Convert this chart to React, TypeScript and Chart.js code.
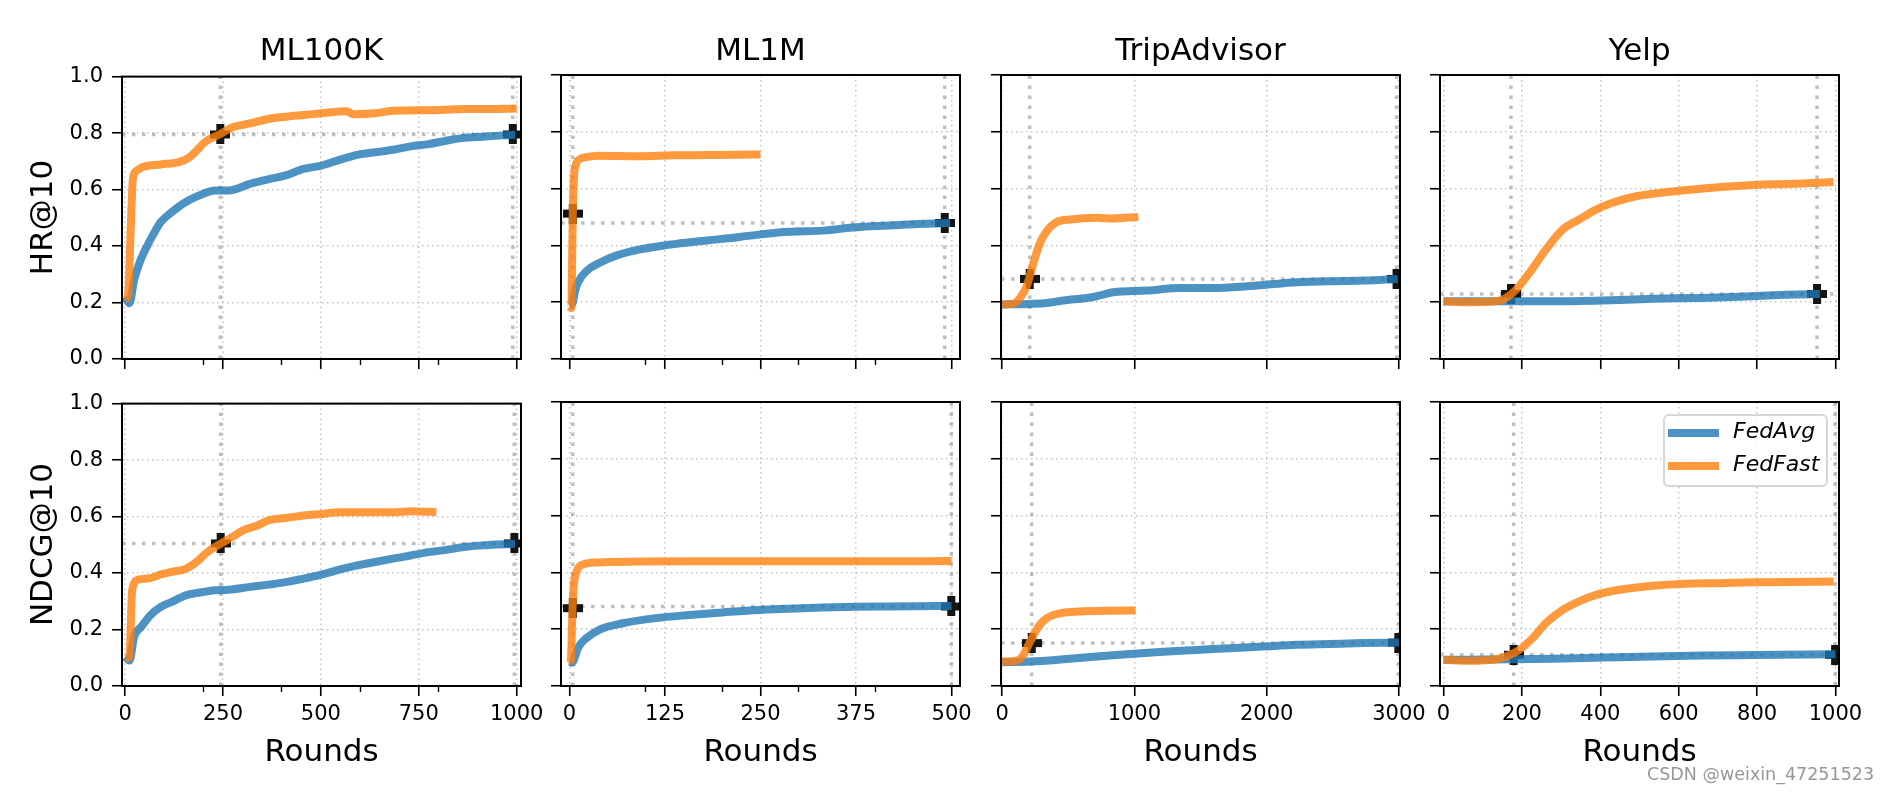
import React, { useEffect, useRef } from "react";
import { Chart, registerables } from "chart.js";

Chart.register(...registerables);

// ---------------- text ----------------
const COLUMN_TITLES = ["ML100K", "ML1M", "TripAdvisor", "Yelp"];
const ROW_LABELS = ["HR@10", "NDCG@10"];
const X_LABEL = "Rounds";
const SERIES_NAMES = ["FedAvg", "FedFast"];
const WATERMARK = "CSDN @weixin_47251523";

// ---------------- axes ----------------
const Y_TICKS = [0, 0.2, 0.4, 0.6, 0.8, 1.0];
const X_TICKS_ML100K = [0, 250, 500, 750, 1000];
const X_MINOR_ML100K = [200, 400, 600, 800];
const X_RANGE_ML100K = [-8, 1011];
const X_TICKS_ML1M = [0, 125, 250, 375, 500];
const X_MINOR_ML1M = [100, 200, 300, 400];
const X_RANGE_ML1M = [-11, 511];
const X_TICKS_TRIP = [0, 1000, 2000, 3000];
const X_MINOR_TRIP: number[] = [];
const X_RANGE_TRIP = [-8, 3008];
const X_TICKS_YELP = [0, 200, 400, 600, 800, 1000];
const X_MINOR_YELP: number[] = [];
const X_RANGE_YELP = [-9, 1009];

// ---------------- ML100K HR@10 ----------------
const ML100K_HR_AVG_X = [0, 11, 23, 36, 55, 73, 91, 119, 155, 200, 228, 264, 319, 365, 410, 456, 501, 547, 593, 638, 684, 729, 775, 820, 866, 912, 957, 996];
const ML100K_HR_AVG_Y = [0.22, 0.197, 0.28, 0.338, 0.397, 0.444, 0.485, 0.52, 0.556, 0.585, 0.597, 0.597, 0.62, 0.636, 0.65, 0.673, 0.685, 0.705, 0.723, 0.732, 0.741, 0.753, 0.761, 0.773, 0.783, 0.787, 0.791, 0.794];
const ML100K_HR_FAST_X = [0, 8, 14, 20, 28, 45, 91, 137, 164, 187, 200, 243, 273, 319, 365, 410, 456, 501, 565, 583, 638, 684, 775, 866, 912, 1000];
const ML100K_HR_FAST_Y = [0.21, 0.23, 0.45, 0.64, 0.665, 0.68, 0.689, 0.697, 0.714, 0.744, 0.764, 0.797, 0.82, 0.834, 0.85, 0.858, 0.864, 0.87, 0.877, 0.867, 0.87, 0.879, 0.881, 0.885, 0.885, 0.887];
const ML100K_HR_VLINES = [243, 990];
const ML100K_HR_HLINE = 0.795;
const ML100K_HR_MARK_X = [243, 990];
const ML100K_HR_MARK_Y = [0.795, 0.795];

// ---------------- ML100K NDCG@10 ----------------
const ML100K_NDCG_AVG_X = [0, 11, 23, 41, 64, 91, 119, 155, 200, 228, 264, 319, 365, 410, 456, 501, 547, 593, 638, 684, 729, 775, 820, 866, 912, 996];
const ML100K_NDCG_AVG_Y = [0.103, 0.09, 0.174, 0.209, 0.25, 0.28, 0.298, 0.321, 0.333, 0.339, 0.341, 0.351, 0.359, 0.368, 0.38, 0.394, 0.412, 0.427, 0.439, 0.451, 0.462, 0.474, 0.482, 0.492, 0.498, 0.504];
const ML100K_NDCG_FAST_X = [0, 11, 18, 32, 64, 91, 119, 155, 182, 210, 244, 273, 301, 337, 365, 410, 456, 501, 547, 593, 684, 729, 795];
const ML100K_NDCG_FAST_Y = [0.098, 0.104, 0.34, 0.376, 0.382, 0.395, 0.404, 0.415, 0.439, 0.474, 0.504, 0.527, 0.551, 0.568, 0.586, 0.595, 0.604, 0.609, 0.615, 0.615, 0.615, 0.619, 0.615];
const ML100K_NDCG_VLINES = [244, 994];
const ML100K_NDCG_HLINE = 0.505;
const ML100K_NDCG_MARK_X = [244, 994];
const ML100K_NDCG_MARK_Y = [0.505, 0.505];

// ---------------- ML1M HR@10 ----------------
const ML1M_HR_AVG_X = [0, 4, 7, 11, 22, 39, 61, 91, 124, 157, 200, 248, 287, 331, 375, 418, 462, 498];
const ML1M_HR_AVG_Y = [0.19, 0.195, 0.235, 0.268, 0.309, 0.338, 0.364, 0.385, 0.4, 0.411, 0.423, 0.438, 0.448, 0.452, 0.464, 0.47, 0.476, 0.479];
const ML1M_HR_FAST_X = [0, 2.5, 3.5, 4.4, 6, 8.5, 13, 22, 39, 91, 135, 179, 222, 250];
const ML1M_HR_FAST_Y = [0.185, 0.18, 0.33, 0.51, 0.64, 0.685, 0.703, 0.711, 0.716, 0.714, 0.717, 0.718, 0.719, 0.72];
const ML1M_HR_VLINES = [4.4, 491];
const ML1M_HR_HLINE = 0.479;
const ML1M_HR_MARK_X = [4.4, 491];
const ML1M_HR_MARK_Y = [0.512, 0.479];

// ---------------- ML1M NDCG@10 ----------------
const ML1M_NDCG_AVG_X = [0, 4, 7, 11, 22, 39, 70, 113, 157, 200, 248, 287, 331, 375, 418, 500];
const ML1M_NDCG_AVG_Y = [0.085, 0.082, 0.1, 0.133, 0.168, 0.198, 0.221, 0.239, 0.25, 0.259, 0.268, 0.272, 0.276, 0.279, 0.28, 0.282];
const ML1M_NDCG_FAST_X = [0, 2, 4, 6, 9, 15, 37, 91, 179, 309, 396, 500];
const ML1M_NDCG_FAST_Y = [0.08, 0.095, 0.27, 0.36, 0.4, 0.425, 0.435, 0.438, 0.439, 0.439, 0.439, 0.44];
const ML1M_NDCG_VLINES = [4.4, 499.6];
const ML1M_NDCG_HLINE = 0.28;
const ML1M_NDCG_MARK_X = [4.4, 499.6];
const ML1M_NDCG_MARK_Y = [0.274, 0.28];

// ---------------- TripAdvisor HR@10 ----------------
const TRIP_HR_AVG_X = [0, 212, 338, 463, 640, 715, 841, 1093, 1345, 1597, 1849, 2106, 2227, 2486, 2738, 2990];
const TRIP_HR_AVG_Y = [0.192, 0.194, 0.197, 0.206, 0.215, 0.221, 0.235, 0.241, 0.25, 0.25, 0.256, 0.266, 0.27, 0.274, 0.276, 0.282];
const TRIP_HR_FAST_X = [0, 86, 136, 186, 237, 287, 338, 413, 514, 715, 841, 1030];
const TRIP_HR_FAST_Y = [0.192, 0.195, 0.215, 0.256, 0.338, 0.409, 0.45, 0.482, 0.491, 0.497, 0.495, 0.5];
const TRIP_HR_VLINES = [209, 2982];
const TRIP_HR_HLINE = 0.282;
const TRIP_HR_MARK_X = [209, 2982];
const TRIP_HR_MARK_Y = [0.282, 0.282];

// ---------------- TripAdvisor NDCG@10 ----------------
const TRIP_NDCG_AVG_X = [0, 212, 463, 715, 967, 1219, 1471, 1723, 1975, 2227, 2478, 2730, 3000];
const TRIP_NDCG_AVG_Y = [0.084, 0.086, 0.094, 0.104, 0.113, 0.121, 0.127, 0.133, 0.139, 0.145, 0.148, 0.151, 0.153];
const TRIP_NDCG_FAST_X = [0, 111, 161, 212, 275, 338, 438, 589, 841, 1010];
const TRIP_NDCG_FAST_Y = [0.086, 0.089, 0.109, 0.156, 0.209, 0.239, 0.256, 0.262, 0.265, 0.266];
const TRIP_NDCG_VLINES = [224, 2995];
const TRIP_NDCG_HLINE = 0.151;
const TRIP_NDCG_MARK_X = [224, 2995];
const TRIP_NDCG_MARK_Y = [0.151, 0.153];

// ---------------- Yelp HR@10 ----------------
const YELP_HR_AVG_X = [0, 134, 193, 278, 406, 534, 661, 789, 874, 960];
const YELP_HR_AVG_Y = [0.203, 0.203, 0.203, 0.203, 0.206, 0.212, 0.215, 0.221, 0.226, 0.229];
const YELP_HR_FAST_X = [0, 66, 134, 159, 185, 219, 261, 304, 346, 389, 431, 491, 576, 661, 746, 831, 917, 995];
const YELP_HR_FAST_Y = [0.203, 0.2, 0.203, 0.215, 0.244, 0.303, 0.385, 0.456, 0.491, 0.526, 0.55, 0.573, 0.589, 0.6, 0.609, 0.615, 0.618, 0.623];
const YELP_HR_VLINES = [172, 953];
const YELP_HR_HLINE = 0.229;
const YELP_HR_MARK_X = [172, 953];
const YELP_HR_MARK_Y = [0.229, 0.229];

// ---------------- Yelp NDCG@10 ----------------
const YELP_NDCG_AVG_X = [0, 176, 278, 406, 534, 661, 789, 1000];
const YELP_NDCG_AVG_Y = [0.092, 0.094, 0.096, 0.1, 0.104, 0.107, 0.109, 0.112];
const YELP_NDCG_FAST_X = [0, 66, 134, 168, 193, 227, 261, 304, 346, 389, 449, 534, 619, 704, 789, 874, 995];
const YELP_NDCG_FAST_Y = [0.092, 0.089, 0.094, 0.109, 0.127, 0.168, 0.221, 0.268, 0.298, 0.321, 0.339, 0.353, 0.36, 0.362, 0.365, 0.366, 0.368];
const YELP_NDCG_VLINES = [179, 999];
const YELP_NDCG_HLINE = 0.11;
const YELP_NDCG_MARK_X = [179, 999];
const YELP_NDCG_MARK_Y = [0.11, 0.11];

// ---------------- layout / style ----------------
const FONT = "'DejaVu Sans', 'Liberation Sans', sans-serif";
const PLOT_LEFT = [122, 561, 1001, 1440];
const PLOT_TOP = [75, 402];
const PLOT_W = 399;
const PLOT_H = 284;
const PAD_L = 115;
const PAD_R = 45;
const PAD_T = 20;
const PAD_B = 50;
const BLUE = "rgba(31,119,180,0.8)";
const ORANGE = "rgba(255,127,14,0.8)";
const REF_GRAY = "rgba(128,128,128,0.5)";
const GRID_GRAY = "rgba(176,176,176,0.75)";

type PanelCfg = {
  row: number;
  col: number;
  xRange: number[];
  xTicks: number[];
  xMinor: number[];
  avgX: number[];
  avgY: number[];
  fastX: number[];
  fastY: number[];
  vlines: number[];
  hline: number;
  markX: number[];
  markY: number[];
};

const COL_AXES = [
  { xRange: X_RANGE_ML100K, xTicks: X_TICKS_ML100K, xMinor: X_MINOR_ML100K },
  { xRange: X_RANGE_ML1M, xTicks: X_TICKS_ML1M, xMinor: X_MINOR_ML1M },
  { xRange: X_RANGE_TRIP, xTicks: X_TICKS_TRIP, xMinor: X_MINOR_TRIP },
  { xRange: X_RANGE_YELP, xTicks: X_TICKS_YELP, xMinor: X_MINOR_YELP },
];

const PANELS: PanelCfg[] = [
  { row: 0, col: 0, ...COL_AXES[0], avgX: ML100K_HR_AVG_X, avgY: ML100K_HR_AVG_Y, fastX: ML100K_HR_FAST_X, fastY: ML100K_HR_FAST_Y, vlines: ML100K_HR_VLINES, hline: ML100K_HR_HLINE, markX: ML100K_HR_MARK_X, markY: ML100K_HR_MARK_Y },
  { row: 0, col: 1, ...COL_AXES[1], avgX: ML1M_HR_AVG_X, avgY: ML1M_HR_AVG_Y, fastX: ML1M_HR_FAST_X, fastY: ML1M_HR_FAST_Y, vlines: ML1M_HR_VLINES, hline: ML1M_HR_HLINE, markX: ML1M_HR_MARK_X, markY: ML1M_HR_MARK_Y },
  { row: 0, col: 2, ...COL_AXES[2], avgX: TRIP_HR_AVG_X, avgY: TRIP_HR_AVG_Y, fastX: TRIP_HR_FAST_X, fastY: TRIP_HR_FAST_Y, vlines: TRIP_HR_VLINES, hline: TRIP_HR_HLINE, markX: TRIP_HR_MARK_X, markY: TRIP_HR_MARK_Y },
  { row: 0, col: 3, ...COL_AXES[3], avgX: YELP_HR_AVG_X, avgY: YELP_HR_AVG_Y, fastX: YELP_HR_FAST_X, fastY: YELP_HR_FAST_Y, vlines: YELP_HR_VLINES, hline: YELP_HR_HLINE, markX: YELP_HR_MARK_X, markY: YELP_HR_MARK_Y },
  { row: 1, col: 0, ...COL_AXES[0], avgX: ML100K_NDCG_AVG_X, avgY: ML100K_NDCG_AVG_Y, fastX: ML100K_NDCG_FAST_X, fastY: ML100K_NDCG_FAST_Y, vlines: ML100K_NDCG_VLINES, hline: ML100K_NDCG_HLINE, markX: ML100K_NDCG_MARK_X, markY: ML100K_NDCG_MARK_Y },
  { row: 1, col: 1, ...COL_AXES[1], avgX: ML1M_NDCG_AVG_X, avgY: ML1M_NDCG_AVG_Y, fastX: ML1M_NDCG_FAST_X, fastY: ML1M_NDCG_FAST_Y, vlines: ML1M_NDCG_VLINES, hline: ML1M_NDCG_HLINE, markX: ML1M_NDCG_MARK_X, markY: ML1M_NDCG_MARK_Y },
  { row: 1, col: 2, ...COL_AXES[2], avgX: TRIP_NDCG_AVG_X, avgY: TRIP_NDCG_AVG_Y, fastX: TRIP_NDCG_FAST_X, fastY: TRIP_NDCG_FAST_Y, vlines: TRIP_NDCG_VLINES, hline: TRIP_NDCG_HLINE, markX: TRIP_NDCG_MARK_X, markY: TRIP_NDCG_MARK_Y },
  { row: 1, col: 3, ...COL_AXES[3], avgX: YELP_NDCG_AVG_X, avgY: YELP_NDCG_AVG_Y, fastX: YELP_NDCG_FAST_X, fastY: YELP_NDCG_FAST_Y, vlines: YELP_NDCG_VLINES, hline: YELP_NDCG_HLINE, markX: YELP_NDCG_MARK_X, markY: YELP_NDCG_MARK_Y },
];

function makeMarker(): HTMLCanvasElement {
  const c = document.createElement("canvas");
  const s = 20;
  const t = 8;
  c.width = s;
  c.height = s;
  const g = c.getContext("2d")!;
  g.fillStyle = "#141414";
  g.fillRect((s - t) / 2, 0, t, s);
  g.fillRect(0, (s - t) / 2, s, t);
  return c;
}

const framePlugin = {
  id: "frame",
  afterDraw(chart: any) {
    const { ctx, chartArea: a } = chart;
    ctx.save();
    ctx.setLineDash([]);
    ctx.strokeStyle = "#000";
    ctx.lineWidth = 2;
    ctx.strokeRect(a.left, a.top, a.right - a.left, a.bottom - a.top);
    ctx.restore();
  },
};

const pts = (xs: number[], ys: number[]) => xs.map((x, i) => ({ x, y: ys[i] }));

function Panel({ cfg }: { cfg: PanelCfg }) {
  const ref = useRef<HTMLCanvasElement>(null);
  const cw = PAD_L + PLOT_W + PAD_R;
  const ch = PAD_T + PLOT_H + PAD_B;
  const left = PLOT_LEFT[cfg.col] - PAD_L;
  const top = PLOT_TOP[cfg.row] - PAD_T;

  useEffect(() => {
    const canvas = ref.current!;
    const marker = makeMarker();
    const [xmin, xmax] = cfg.xRange;
    const showX = cfg.row === 1;
    const showY = cfg.col === 0;
    const tickFont = { family: FONT, size: 21 };

    const refSets: any[] = cfg.vlines.map((v) => ({
      data: [{ x: v, y: 0 }, { x: v, y: 1 }],
      borderColor: REF_GRAY,
      borderWidth: 3.5,
      borderDash: [3.5, 6.5],
      borderCapStyle: "butt",
      pointRadius: 0,
      order: 4,
    }));
    refSets.push({
      data: [{ x: xmin, y: cfg.hline }, { x: xmax, y: cfg.hline }],
      borderColor: REF_GRAY,
      borderWidth: 3.5,
      borderDash: [3.5, 6.5],
      borderCapStyle: "butt",
      pointRadius: 0,
      order: 4,
    });

    const gridOpts = {
      display: true,
      drawOnChartArea: true,
      color: GRID_GRAY,
      lineWidth: 1.5,
      drawTicks: true,
      tickLength: 10,
      tickColor: "#000",
      tickWidth: 1.6,
      tickBorderDash: [],
    };

    const scales: any = {
      x: {
        type: "linear",
        position: "bottom",
        min: xmin,
        max: xmax,
        weight: 1,
        afterBuildTicks: (s: any) => {
          s.ticks = cfg.xTicks.map((v) => ({ value: v }));
        },
        afterFit: (s: any) => {
          s.height = PAD_B;
        },
        ticks: {
          display: showX,
          font: tickFont,
          color: "#000",
          padding: 6,
          maxRotation: 0,
          autoSkip: false,
          callback: (v: any) => String(v),
        },
        grid: gridOpts,
        border: { display: false, dash: [1.5, 3.5] },
      },
      y: {
        type: "linear",
        position: "left",
        min: 0,
        max: 1,
        afterBuildTicks: (s: any) => {
          s.ticks = Y_TICKS.map((v) => ({ value: v }));
        },
        afterFit: (s: any) => {
          s.width = PAD_L;
        },
        ticks: {
          display: showY,
          font: tickFont,
          color: "#000",
          padding: 9,
          callback: (v: any) => Number(v).toFixed(1),
        },
        grid: gridOpts,
        border: { display: false, dash: [1.5, 3.5] },
      },
    };
    if (cfg.xMinor.length) {
      scales.xm = {
        type: "linear",
        position: "bottom",
        min: xmin,
        max: xmax,
        weight: 0,
        afterBuildTicks: (s: any) => {
          s.ticks = cfg.xMinor.map((v) => ({ value: v }));
        },
        afterFit: (s: any) => {
          s.height = 0;
        },
        ticks: { display: false },
        grid: {
          display: true,
          drawOnChartArea: false,
          drawTicks: true,
          tickLength: 6,
          tickColor: "#000",
          tickWidth: 1.4,
        },
        border: { display: false },
      };
    }

    const chart = new Chart(canvas, {
      type: "line",
      data: {
        datasets: [
          ...refSets,
          {
            data: pts(cfg.markX, cfg.markY),
            showLine: false,
            pointStyle: marker,
            pointRadius: 10,
            borderWidth: 0,
            order: 3,
          },
          {
            label: SERIES_NAMES[0],
            data: pts(cfg.avgX, cfg.avgY),
            borderColor: BLUE,
            borderWidth: 8,
            borderJoinStyle: "round",
            borderCapStyle: "butt",
            cubicInterpolationMode: "monotone",
            pointRadius: 0,
            order: 2,
          },
          {
            label: SERIES_NAMES[1],
            data: pts(cfg.fastX, cfg.fastY),
            borderColor: ORANGE,
            borderWidth: 8,
            borderJoinStyle: "round",
            borderCapStyle: "butt",
            cubicInterpolationMode: "monotone",
            pointRadius: 0,
            order: 1,
          },
        ] as any,
      },
      options: {
        animation: false,
        responsive: false,
        events: [],
        layout: { padding: { top: PAD_T, right: PAD_R, left: 0, bottom: 0 } },
        plugins: { legend: { display: false }, tooltip: { enabled: false } },
        scales,
      } as any,
      plugins: [framePlugin],
    });
    return () => chart.destroy();
  }, [cfg]);

  return (
    <canvas
      ref={ref}
      width={cw}
      height={ch}
      style={{ position: "absolute", left, top, width: cw, height: ch }}
    />
  );
}

export default function App() {
  const textBase: React.CSSProperties = {
    position: "absolute",
    fontFamily: FONT,
    color: "#000",
    whiteSpace: "nowrap",
  };
  return (
    <div
      style={{
        position: "fixed",
        left: 0,
        top: 0,
        width: 1893,
        height: 795,
        background: "#fff",
        overflow: "hidden",
      }}
    >
      {PANELS.map((p, i) => (
        <Panel key={i} cfg={p} />
      ))}
      {COLUMN_TITLES.map((t, c) => (
        <div
          key={"t" + c}
          style={{ ...textBase, left: PLOT_LEFT[c], width: PLOT_W, top: 34, fontSize: 31, lineHeight: "31px", textAlign: "center" }}
        >
          {t}
        </div>
      ))}
      {COLUMN_TITLES.map((_, c) => (
        <div
          key={"x" + c}
          style={{ ...textBase, left: PLOT_LEFT[c], width: PLOT_W, top: 735, fontSize: 31, lineHeight: "31px", textAlign: "center" }}
        >
          {X_LABEL}
        </div>
      ))}
      {ROW_LABELS.map((t, r) => (
        <div
          key={"r" + r}
          style={{
            ...textBase,
            left: 41 - 150,
            width: 300,
            top: PLOT_TOP[r] + PLOT_H / 2 - 15.5,
            height: 31,
            fontSize: 31,
            lineHeight: "31px",
            textAlign: "center",
            transform: "rotate(-90deg)",
          }}
        >
          {t}
        </div>
      ))}
      {/* legend */}
      <div
        style={{
          position: "absolute",
          left: 1663,
          top: 414,
          width: 165,
          height: 73,
          boxSizing: "border-box",
          border: "2px solid rgba(204,204,204,0.8)",
          borderRadius: 6,
          background: "rgba(255,255,255,0.8)",
        }}
      />
      <div style={{ position: "absolute", left: 1668, top: 429, width: 51, height: 8, background: BLUE }} />
      <div style={{ position: "absolute", left: 1668, top: 462, width: 51, height: 8, background: ORANGE }} />
      <div style={{ ...textBase, left: 1733, top: 420, fontSize: 22, lineHeight: "22px", fontStyle: "italic" }}>
        {SERIES_NAMES[0]}
      </div>
      <div style={{ ...textBase, left: 1733, top: 453, fontSize: 22, lineHeight: "22px", fontStyle: "italic" }}>
        {SERIES_NAMES[1]}
      </div>
      <div
        style={{
          ...textBase,
          left: 1647,
          top: 765,
          fontSize: 17.5,
          lineHeight: "18px",
          color: "rgba(140,140,140,0.9)",
        }}
      >
        {WATERMARK}
      </div>
    </div>
  );
}
